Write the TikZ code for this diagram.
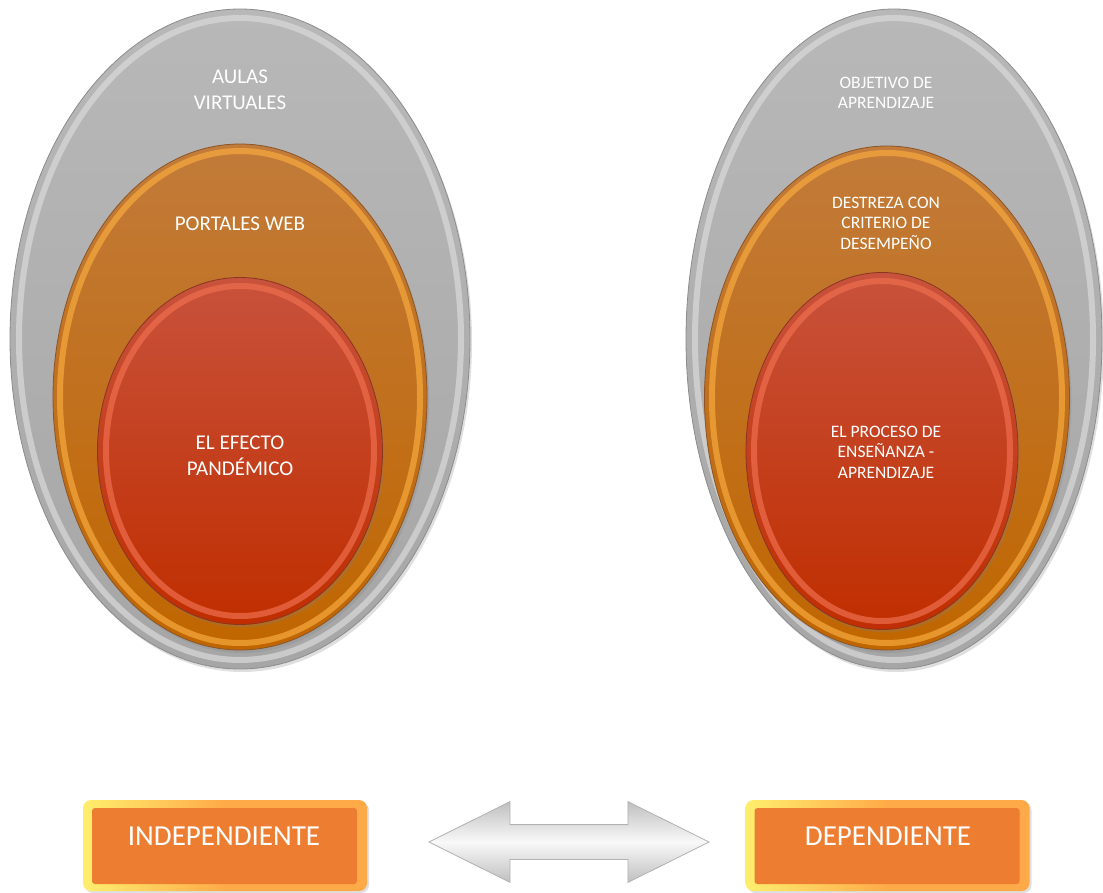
\documentclass[tikz,border=0pt]{standalone}
\usepackage{fontspec}
\setmainfont{Carlito}
\usetikzlibrary{shapes.geometric,shapes.arrows,shadows}

\definecolor{grisA}{HTML}{B8B8B8}
\definecolor{grisB}{HTML}{A6A6A6}
\definecolor{grisBorde}{HTML}{8C8C8C}
\definecolor{grisBrillo}{HTML}{DADADA}
\definecolor{naranjaA}{HTML}{C27B3A}
\definecolor{naranjaB}{HTML}{C06600}
\definecolor{naranjaBorde}{HTML}{8A5528}
\definecolor{naranjaBrillo}{HTML}{F7AA3E}
\definecolor{rojoA}{HTML}{C8523C}
\definecolor{rojoB}{HTML}{C02E00}
\definecolor{rojoBorde}{HTML}{8A3524}
\definecolor{rojoBrillo}{HTML}{EF6E4E}
\definecolor{cajaFondo}{HTML}{ED7D31}
\definecolor{cajaAmarillo}{HTML}{FFEE6E}
\definecolor{cajaClaro}{HTML}{FFAA48}

\begin{document}
\begin{tikzpicture}[x=1pt,y=-1pt,
  anillo/.style={ellipse, inner sep=0pt, draw=#1, line width=0.8pt,
    drop shadow={opacity=0.25, shadow xshift=2pt, shadow yshift=-3pt}},
  gris/.style={anillo=grisBorde, top color=grisA, bottom color=grisB},
  naranja/.style={anillo=naranjaBorde, top color=naranjaA, bottom color=naranjaB},
  rojo/.style={anillo=rojoBorde, top color=rojoA, bottom color=rojoB},
  brillo/.style={draw=#1, line width=6pt, opacity=0.7},
  texto/.style={text=white, align=center, inner sep=0pt},
  grande/.style={texto, font=\fontsize{21}{26}\selectfont},
  chico/.style={texto, font=\fontsize{17.5}{20.5}\selectfont},
  caja/.style={rounded corners=8pt, minimum width=284pt, minimum height=91pt,
    left color=cajaAmarillo, right color=cajaClaro, middle color=cajaClaro,
    drop shadow={opacity=0.25, shadow xshift=2pt, shadow yshift=-2pt},
    path picture={\fill[cajaFondo, rounded corners=3pt]
      ([shift={(9pt,7pt)}]path picture bounding box.south west) rectangle
      ([shift={(-10pt,-8pt)}]path picture bounding box.north east);}},
  flecha/.style={double arrow, inner xsep=0pt, inner ysep=17pt, minimum height=280pt,
    double arrow head extend=23pt, double arrow tip angle=53,
    top color=gray!50, bottom color=gray!50, middle color=gray!5, draw=gray!60, line width=0.8pt},
  ]
\useasboundingbox (0,0) rectangle (1103,893);

% independiente
\node[gris, minimum width=460pt, minimum height=660pt] (grisI) at (240,339) {};
\draw[brillo=grisBrillo] (grisI.center) ellipse [x radius=221pt, y radius=321pt];
\node[naranja, minimum width=374pt, minimum height=506pt] (naranjaI) at (240,397) {};
\draw[brillo=naranjaBrillo] (naranjaI.center) ellipse [x radius=180pt, y radius=246pt];
\node[rojo, minimum width=285pt, minimum height=347pt] (rojoI) at (240,451) {};
\draw[brillo=rojoBrillo] (rojoI.center) ellipse [x radius=134pt, y radius=165pt];

\node[grande] (aulas) at (240,90) {AULAS\\VIRTUALES};
\node[grande] (portales) at (240,224) {PORTALES WEB};
\node[grande] (efecto) at (240,456) {EL EFECTO\\PANDÉMICO};

% dependiente
\node[gris, minimum width=416pt, minimum height=660pt] (grisD) at (894,339) {};
\draw[brillo=grisBrillo] (grisD.center) ellipse [x radius=199pt, y radius=321pt];
\node[naranja, minimum width=365pt, minimum height=504pt] (naranjaD) at (887,398) {};
\draw[brillo=naranjaBrillo] (naranjaD.center) ellipse [x radius=175pt, y radius=245pt];
\node[rojo, minimum width=272pt, minimum height=357pt] (rojoD) at (882,451) {};
\draw[brillo=rojoBrillo] (rojoD.center) ellipse [x radius=128pt, y radius=170pt];

\node[chico] (objetivo) at (886,93) {OBJETIVO DE\\APRENDIZAJE};
\node[chico] (destreza) at (886,223) {DESTREZA CON\\CRITERIO DE\\DESEMPEÑO};
\node[chico] (proceso) at (886,452) {EL PROCESO DE\\ENSEÑANZA -\\APRENDIZAJE};

% variables
\node[caja] (cajaI) at (225,845.5) {};
\node[texto, font=\fontsize{29}{34}\selectfont] (indep) at (224,836) {INDEPENDIENTE};
\node[caja] (cajaD) at (887.5,845.5) {};
\node[texto, font=\fontsize{29}{34}\selectfont] (dep) at (888,836) {DEPENDIENTE};
\node[flecha] (flecha) at (569,842) {};
\end{tikzpicture}
\end{document}
